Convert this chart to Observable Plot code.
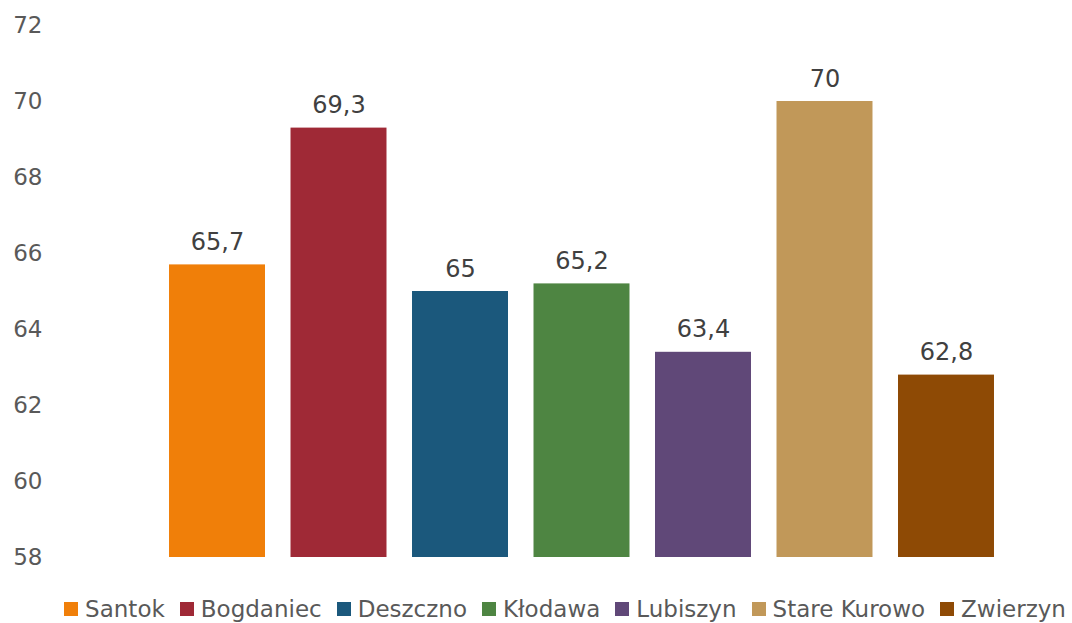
<!DOCTYPE html>
<html>
<head>
<meta charset="utf-8">
<script src="https://cdn.jsdelivr.net/npm/d3@7"></script>
<script src="https://cdn.jsdelivr.net/npm/@observablehq/plot@0.6"></script>
<style>
  body { margin: 0; background: #fff; font-family: "DejaVu Sans", Verdana, sans-serif; position: relative; width: 1072px; height: 623px; overflow: hidden; }
  #legend { position: absolute; left: 0; top: 597px; width: 1072px; display: flex; justify-content: center; align-items: center; line-height: 24px; font-size: 23px; color: #595959; white-space: nowrap; transform: translateX(29px); }
  .item { display: flex; align-items: center; margin: 0 7.5px; flex: none; }
  .sw { width: 14px; height: 14px; margin-right: 7px; }
</style>
</head>
<body>
<div id="chart"></div>
<div id="legend"></div>
<script>
const categories = ["Santok", "Bogdaniec", "Deszczno", "Kłodawa", "Lubiszyn", "Stare Kurowo", "Zwierzyn"];
const values = [65.7, 69.3, 65.0, 65.2, 63.4, 70.0, 62.8];
const colors = ["#F07F09", "#9F2936", "#1B587C", "#4E8542", "#604878", "#C19859", "#8E4A05"];
const yTicks = [58, 60, 62, 64, 66, 68, 70, 72];

const data = categories.map((c, i) => ({name: c, value: values[i]}));
const fmt = v => String(v).replace(".", ",");

const chart = Plot.plot({
  width: 1072,
  height: 585,
  marginLeft: 143.5,
  marginRight: 52.5,
  marginTop: 25,
  marginBottom: 28,
  style: { fontFamily: "DejaVu Sans, Verdana, sans-serif", fontSize: "23px", background: "#fff" },
  x: { domain: categories, padding: 0.21, round: false, axis: null },
  y: { domain: [58, 72], ticks: yTicks },
  color: { domain: categories, range: colors },
  marks: [
    Plot.axisY({ ticks: yTicks, tickSize: 0, tickPadding: 101.5, tickFormat: d => d, fill: "#595959", fontSize: 23, label: null }),
    Plot.barY(data, { x: "name", y1: 58, y2: "value", fill: "name" }),
    Plot.text(data, { x: "name", y: "value", text: d => fmt(d.value), lineAnchor: "bottom", dy: -15, fill: "#404040", fontSize: 24 })
  ]
});
document.getElementById("chart").append(chart);

const legend = document.getElementById("legend");
categories.forEach((c, i) => {
  const it = document.createElement("div");
  it.className = "item";
  const sw = document.createElement("span");
  sw.className = "sw";
  sw.style.background = colors[i];
  const t = document.createElement("span");
  t.textContent = c;
  it.append(sw, t);
  legend.append(it);
});
</script>
</body>
</html>
